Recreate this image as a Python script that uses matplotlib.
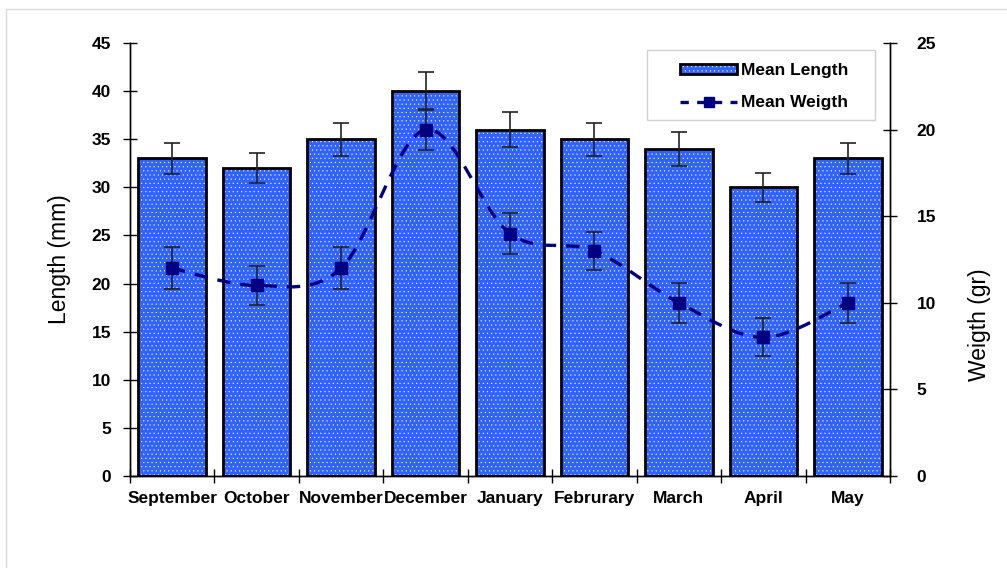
import numpy as np
import matplotlib.pyplot as plt
from matplotlib.patches import Patch, PathPatch, Rectangle
from matplotlib.path import Path
from matplotlib.lines import Line2D
from matplotlib.legend_handler import HandlerTuple

plt.rcParams['font.family'] = ['Liberation Sans', 'DejaVu Sans']
plt.rcParams['hatch.linewidth'] = 0.3

months = ['September', 'October', 'November', 'December', 'January',
          'Februrary', 'March', 'April', 'May']
length_mean = [33, 32, 35, 40, 36, 35, 34, 30, 33]
length_err = [1.6, 1.6, 1.7, 2.0, 1.8, 1.7, 1.8, 1.5, 1.6]
weight_mean = [12, 11, 12, 20, 14, 13, 10, 8, 10]
weight_err = [1.2, 1.15, 1.2, 1.2, 1.2, 1.1, 1.15, 1.1, 1.15]

x = np.arange(len(months))
bar_blue = '#2f62ff'
navy = '#000080'

fig = plt.figure(figsize=(10.07, 5.68), dpi=100)
ax = fig.add_axes([130/1007, 1 - 476/568, 760/1007, 433/568])
ax2 = ax.twinx()

# bars: blue fill with white dots, then black outline on top
ax.bar(x, length_mean, width=0.8, color=bar_blue, edgecolor='white',
       hatch='....', linewidth=0, zorder=2)
ax.bar(x, length_mean, width=0.8, facecolor='none', edgecolor='black',
       linewidth=2, zorder=3)
ax.errorbar(x, length_mean, yerr=length_err, fmt='none', ecolor='#222222',
            elinewidth=1.2, capsize=6, capthick=1.2, zorder=4)

# smooth dashed line for weight (bezier through the points)
pts = np.column_stack([x, weight_mean]).astype(float)
verts = [pts[0]]
codes = [Path.MOVETO]
n = len(pts)
for i in range(n - 1):
    p0 = pts[i - 1] if i > 0 else pts[i]
    p1 = pts[i]
    p2 = pts[i + 1]
    p3 = pts[i + 2] if i + 2 < n else pts[i + 1]
    c1 = p1 + (p2 - p0) / 6
    c2 = p2 - (p3 - p1) / 6
    verts += [c1, c2, p2]
    codes += [Path.CURVE4] * 3
curve = PathPatch(Path(verts, codes), fill=False, edgecolor=navy,
                  linewidth=2.4, linestyle=(0, (4, 3)), zorder=5)
ax2.add_patch(curve)
ax2.errorbar(x, weight_mean, yerr=weight_err, fmt='none', ecolor='#222222',
             elinewidth=1.2, capsize=6, capthick=1.2, zorder=6)
ax2.plot(x, weight_mean, linestyle='none', marker='s', markersize=8,
         color=navy, zorder=7)

ax.set_xlim(-0.5, len(months) - 0.5)
ax.set_ylim(0, 45)
ax.set_yticks(np.arange(0, 46, 5))
ax2.set_ylim(0, 25)
ax2.set_yticks(np.arange(0, 26, 5))

ax.set_xticks(x)
ax.set_xticklabels(months, fontsize=12.5, fontweight='bold')
ax.set_xticks(np.arange(-0.5, len(months), 1), minor=True)
ax.tick_params(axis='x', which='major', length=0, pad=11)
ax.tick_params(axis='x', which='minor', length=10, direction='inout', width=1)
ax.tick_params(axis='y', direction='inout', length=10, width=1,
               labelsize=12.5, pad=8.5)
ax2.tick_params(axis='y', direction='inout', length=10, width=1,
                labelsize=12.5, pad=14)
for lab in ax.get_yticklabels() + ax2.get_yticklabels():
    lab.set_fontweight('bold')

for a in (ax, ax2):
    a.spines['top'].set_visible(False)
    for s in ('left', 'right', 'bottom'):
        a.spines[s].set_linewidth(1)
ax.set_ylabel('Length (mm)', fontsize=16.5, labelpad=15)
ax2.set_ylabel('Weigth (gr)', fontsize=16.5)
ax2.yaxis.set_label_coords(1.102, 0.35)

bar_h = (Patch(facecolor=bar_blue, edgecolor='white', hatch='....', linewidth=0),
         Patch(facecolor='none', edgecolor='black', linewidth=2))
line_h = Line2D([], [], color=navy, linestyle=(0, (2.5, 2.5)), linewidth=2.4,
                marker='s', markersize=7)
leg = ax2.legend([bar_h, line_h], ['Mean Length', 'Mean Weigth'],
                 handler_map={tuple: HandlerTuple(ndivide=1, pad=0)},
                 loc='upper left', bbox_to_anchor=(0.7237, 0.953),
                 prop={'weight': 'bold', 'size': 12.5}, frameon=False,
                 handlelength=3.3, handleheight=0.5,
                 handletextpad=0.2, borderpad=0, labelspacing=0.97,
                 borderaxespad=0)
ax2.add_patch(Rectangle((0.680, 0.822), 0.30, 0.1617, transform=ax2.transAxes,
                        fill=False, edgecolor='#d0d0d0', linewidth=1,
                        zorder=8))

fig.patches.append(Rectangle((6/1007, -0.1), 1.1, 1 - 9/568 + 0.1,
                             transform=fig.transFigure, fill=False,
                             edgecolor='#d9d9d9', linewidth=1))

plt.savefig('out.png')
